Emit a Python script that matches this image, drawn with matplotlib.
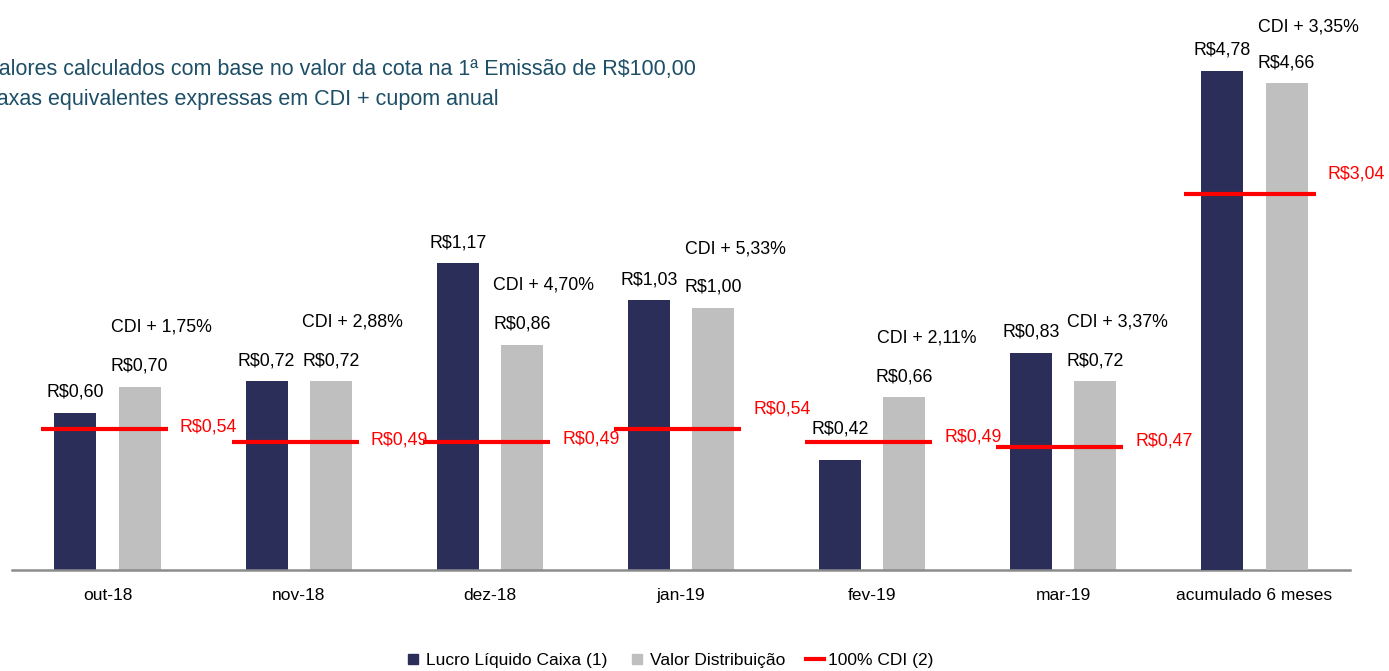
import matplotlib
matplotlib.use("Agg")
import matplotlib.pyplot as plt
from matplotlib.lines import Line2D

plt.rcParams['font.family'] = ['Liberation Sans', 'DejaVu Sans']

months = ["out-18", "nov-18", "dez-18", "jan-19", "fev-19", "mar-19"]
acc_label = "acumulado 6 meses"
lucro = [0.60, 0.72, 1.17, 1.03, 0.42, 0.83]
distrib = [0.70, 0.72, 0.86, 1.00, 0.66, 0.72]
cdi100 = [0.54, 0.49, 0.49, 0.54, 0.49, 0.47]
spread = ["1,75%", "2,88%", "4,70%", "5,33%", "2,11%", "3,37%"]
acc_lucro = 4.78
acc_distrib = 4.66
acc_cdi100 = 3.04
acc_spread = "3,35%"

NAVY = "#2B2E58"
GRAY = "#BFBFBF"
RED = "#FF0000"
TITLE_C = "#1D4F67"

W, H = 1389, 671
fig = plt.figure(figsize=(W / 100, H / 100), dpi=100)
ax = fig.add_axes([12 / W, 101 / H, (1350 - 12) / W, 570 / H])
ax2 = ax.twinx()
ax3 = ax.twinx()

ax.set_ylim(0, 570 / 262)
ax2.set_ylim(0, 570 / 104.4)
ax3.set_ylim(0, 570 / 123.7)
for a in (ax, ax2, ax3):
    a.set_xlim(-0.5, 6.5)
    for s in a.spines.values():
        s.set_visible(False)
    a.set_yticks([])
ax.spines['bottom'].set_visible(True)
ax.spines['bottom'].set_color("#8C8C8C")
ax.spines['bottom'].set_linewidth(1.8)

off = 0.168
bw = 0.22
fs = 12.8
xs = list(range(len(months)))

ax.bar([x - off for x in xs], lucro, width=bw, color=NAVY, zorder=2)
ax.bar([x + off for x in xs], distrib, width=bw, color=GRAY, zorder=2)
ax2.bar([6 - off], [acc_lucro], width=bw, color=NAVY, zorder=2)
ax2.bar([6 + off], [acc_distrib], width=bw, color=GRAY, zorder=2)

red_dy = [2, 2, 3, 20, 5, 6]
navy_dy = [16, 16, 16, 16, 26, 16]
for i, x in enumerate(xs):
    ax.hlines(cdi100[i], x - 0.35, x + 0.315, color=RED, lw=3, zorder=3)
    ax.annotate(f"R${cdi100[i]:.2f}".replace(".", ","), (x + 0.315, cdi100[i]),
                xytext=(12, red_dy[i]), textcoords="offset pixels",
                ha="left", va="center", color=RED, fontsize=fs)
    ax.annotate(f"R${lucro[i]:.2f}".replace(".", ","), (x - off, lucro[i]),
                xytext=(0, navy_dy[i]), textcoords="offset pixels",
                ha="center", va="baseline", fontsize=fs)
    ax.annotate(f"R${distrib[i]:.2f}".replace(".", ","), (x + off, distrib[i]),
                xytext=(0, 16), textcoords="offset pixels",
                ha="center", va="baseline", fontsize=fs)
    ax.annotate(f"CDI + {spread[i]}", (x + off, distrib[i]),
                xytext=(22, 55), textcoords="offset pixels",
                ha="center", va="baseline", fontsize=fs)

ax3.hlines(acc_cdi100, 6 - 0.37, 6 + 0.32, color=RED, lw=3, zorder=3)
ax3.annotate(f"R${acc_cdi100:.2f}".replace(".", ","), (6 + 0.32, acc_cdi100),
             xytext=(12, 20), textcoords="offset pixels",
             ha="left", va="center", color=RED, fontsize=fs)
ax2.annotate(f"R${acc_lucro:.2f}".replace(".", ","), (6 - off, acc_lucro),
             xytext=(0, 16), textcoords="offset pixels",
             ha="center", va="baseline", fontsize=fs)
ax2.annotate(f"R${acc_distrib:.2f}".replace(".", ","), (6 + off, acc_distrib),
             xytext=(0, 16), textcoords="offset pixels",
             ha="center", va="baseline", fontsize=fs)
ax2.annotate(f"CDI + {acc_spread}", (6 + off, acc_distrib),
             xytext=(22, 52), textcoords="offset pixels",
             ha="center", va="baseline", fontsize=fs)

ax.set_xticks(xs + [6])
ax.set_xticklabels(months + [acc_label], fontsize=12.5)
ax.tick_params(axis="x", length=0, pad=13)

fig.text(-14.5 / W, 1 - 70 / H, "Valores calculados com base no valor da cota na 1ª Emissão de R$100,00",
         ha="left", va="center", fontsize=15.5, color=TITLE_C)
fig.text(-13.5 / W, 1 - 100 / H, "Taxas equivalentes expressas em CDI + cupom anual",
         ha="left", va="center", fontsize=15.5, color=TITLE_C)

handles = [
    Line2D([], [], marker="s", linestyle="none", color=NAVY, markersize=7.5),
    Line2D([], [], marker="s", linestyle="none", color=GRAY, markersize=7.5),
    Line2D([], [], color=RED, lw=3),
]
labels = ["Lucro Líquido Caixa (1)", "Valor Distribuição", "100% CDI (2)"]
fig.legend(handles, labels, loc="center", bbox_to_anchor=(669 / W, 11 / H),
           ncol=3, frameon=False, fontsize=12.5, handlelength=1.0,
           handletextpad=0.25, columnspacing=1.2)

fig.savefig("out.png", dpi=100)
